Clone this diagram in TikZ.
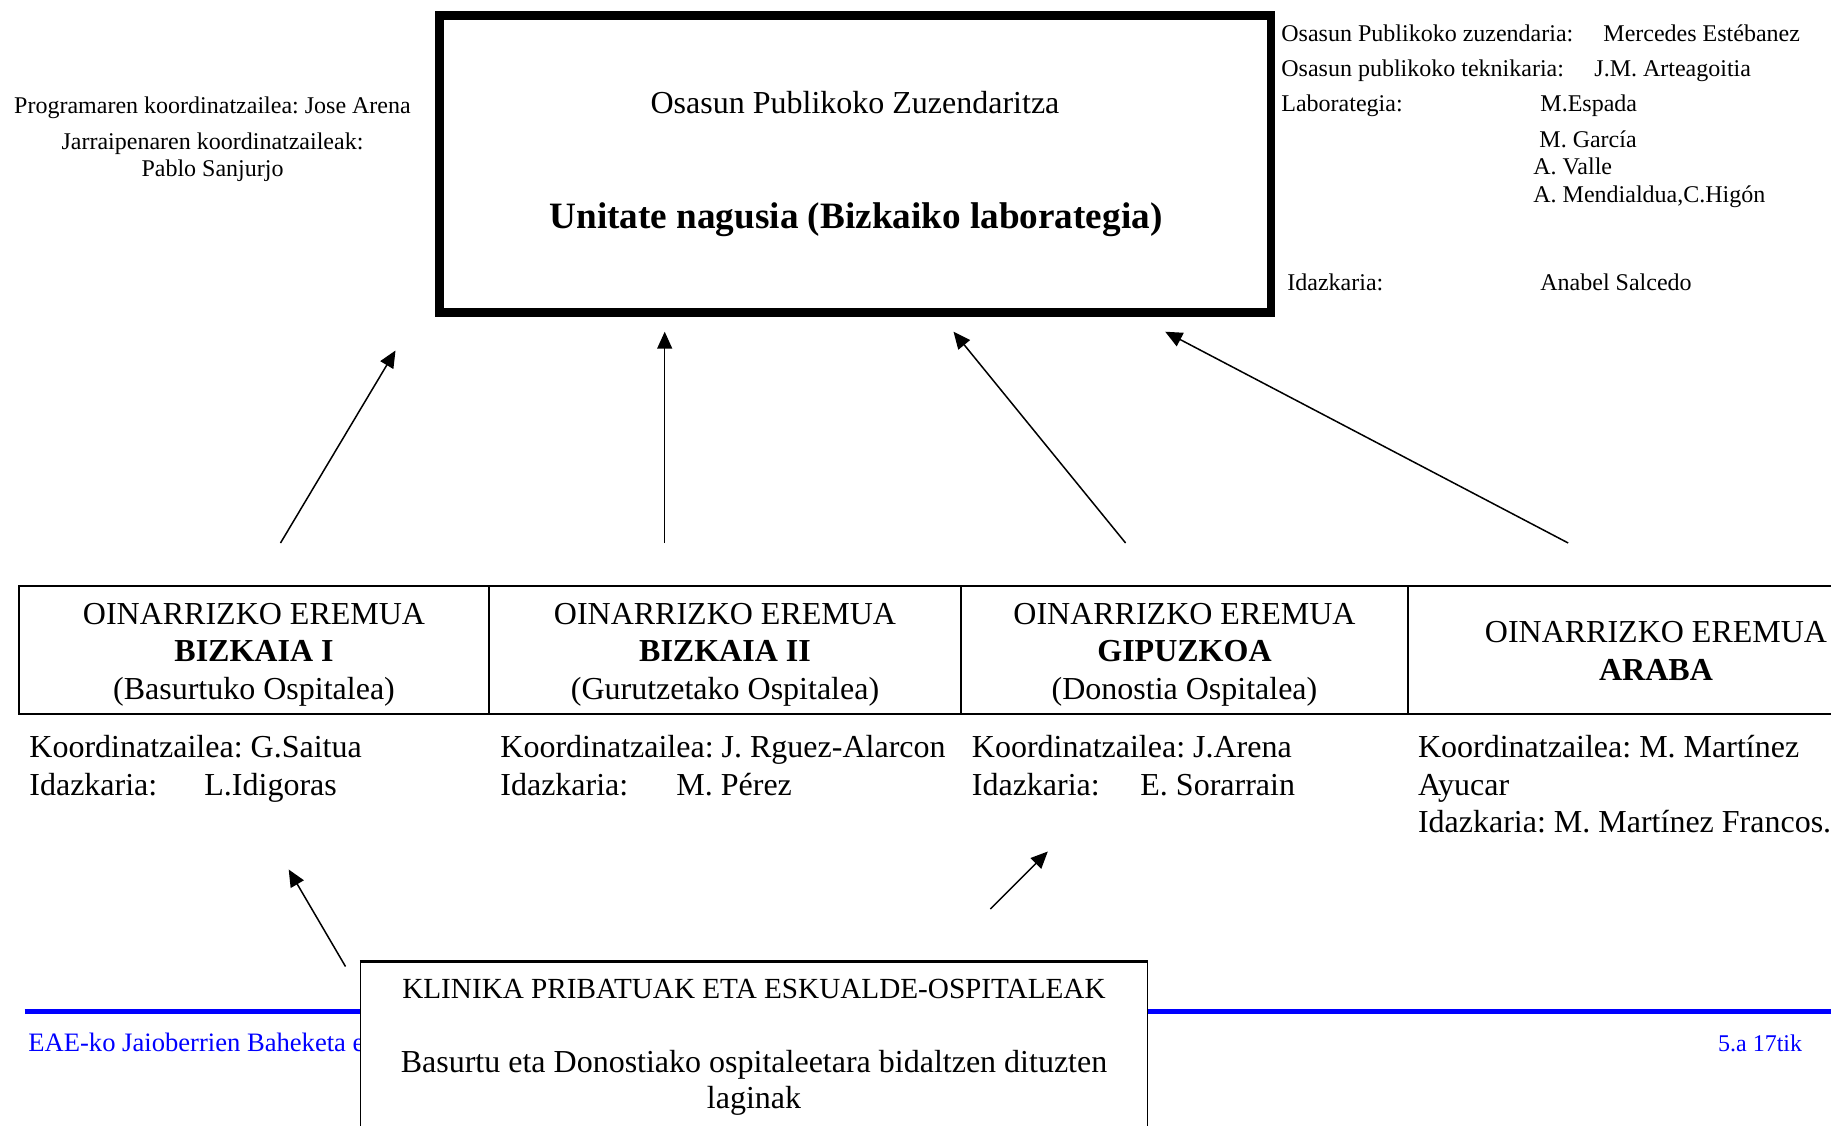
\documentclass[tikz,border=0pt]{standalone}
\usepackage{fontspec}
\setmainfont{Liberation Serif}
\usetikzlibrary{arrows.meta}
\definecolor{footblue}{RGB}{0,0,255}
\frenchspacing
\begin{document}
\begin{tikzpicture}[x=0.5pt,y=-0.5pt,
  txt/.style={inner sep=0pt, text height=0.9em, text depth=0.12em},
  big/.style={txt, font=\fontsize{16}{19}\selectfont, yshift=-1.5pt},
  small/.style={txt, font=\fontsize{12}{14}\selectfont},
  cell/.style={draw=black, line width=1pt, inner sep=0pt, minimum height=63.75pt},
  celltext/.style={inner sep=0pt, align=center, font=\fontsize{16}{18.75}\selectfont},
  arr/.style={-{Triangle[length=8.5pt,width=7.5pt]}, line width=0.75pt}]
\useasboundingbox (0,0) rectangle (1831,1125);
\clip (0,0) rectangle (1831,1125);

% main box
\node[draw=black, line width=4.25pt, minimum width=415.75pt, minimum height=148.5pt, inner sep=0pt] (main) at (855.25,164) {};
\node[big] (t1) at (855,103) {Osasun Publikoko Zuzendaritza};
\node[txt, font=\fontsize{18.6}{22}\selectfont\bfseries] (t2) at (856,221) {Unitate nagusia (Bizkaiko laborategia)};

% left texts
\node[small] (l1) at (212.5,106) {Programaren koordinatzailea: Jose Arena};
\node[small] (l2) at (212.5,141.5) {Jarraipenaren koordinatzaileak:};
\node[small] (l3) at (212.5,168.5) {Pablo Sanjurjo};

% right texts
\node[small, anchor=west] (r1) at (1281,34) {Osasun Publikoko zuzendaria:};
\node[small, anchor=west] (r1b) at (1603,34) {Mercedes Estébanez};
\node[small, anchor=west] (r2) at (1281,69) {Osasun publikoko teknikaria:};
\node[small, anchor=west] (r2b) at (1594,69) {J.M. Arteagoitia};
\node[small, anchor=west] (r3) at (1281,104) {Laborategia:};
\node[small, anchor=west] (r3b) at (1540,104) {M.Espada};
\node[small, anchor=west] (r4) at (1539,140) {M. García};
\node[small, anchor=west] (r5) at (1533,167) {A. Valle};
\node[small, anchor=west] (r6) at (1533,195) {A. Mendialdua,C.Higón};
\node[small, anchor=west] (r7) at (1287,283) {Idazkaria:};
\node[small, anchor=west] (r7b) at (1540,283) {Anabel Salcedo};

% table cells
\node[cell, minimum width=235pt] (c1) at (254,649.75) {};
\node[cell, minimum width=236pt] (c2) at (725,649.75) {};
\node[cell, minimum width=223.5pt] (c3) at (1184.5,649.75) {};
\node[cell, minimum width=248pt] (c4) at (1656,649.75) {};
\node[celltext] (c1t) at (254,654.5) {OINARRIZKO EREMUA\\\textbf{BIZKAIA I}\\(Basurtuko Ospitalea)};
\node[celltext] (c2t) at (725,654.5) {OINARRIZKO EREMUA\\\textbf{BIZKAIA II}\\(Gurutzetako Ospitalea)};
\node[celltext] (c3t) at (1184.5,654.5) {OINARRIZKO EREMUA\\\textbf{GIPUZKOA}\\(Donostia Ospitalea)};
\node[celltext] (c4t) at (1656,651) {OINARRIZKO EREMUA\\\textbf{ARABA}};

% texts below cells
\node[big, anchor=west] (k1) at (29,747) {Koordinatzailea: G.Saitua};
\node[big, anchor=west] (i1) at (29,785) {Idazkaria:};
\node[big, anchor=west] (i1b) at (204,785) {L.Idigoras};
\node[big, anchor=west] (k2) at (500,747) {Koordinatzailea: J. Rguez-Alarcon};
\node[big, anchor=west] (i2) at (500,785) {Idazkaria:};
\node[big, anchor=west] (i2b) at (676,785) {M. Pérez};
\node[big, anchor=west] (k3) at (971.5,747) {Koordinatzailea: J.Arena};
\node[big, anchor=west] (i3) at (971.5,785) {Idazkaria:};
\node[big, anchor=west] (i3b) at (1140,785) {E. Sorarrain};
\node[big, anchor=west] (k4) at (1417.6,747) {Koordinatzailea: M. Martínez};
\node[big, anchor=west] (k4b) at (1417.6,785) {Ayucar};
\node[big, anchor=west] (i4) at (1417.6,822) {Idazkaria: M. Martínez Francos.};

% arrows to main box
\coordinate (a1s) at (280.5,543); \coordinate (a1e) at (395.5,350.5);
\coordinate (a2s) at (664.7,543); \coordinate (a2e) at (664.7,331.7);
\coordinate (a3s) at (1125.6,543); \coordinate (a3e) at (953.5,331.7);
\coordinate (a4s) at (1568.2,543); \coordinate (a4e) at (1165.2,331.7);
\draw[arr] (a1s) -- (a1e);
\draw[arr] (a2s) -- (a2e);
\draw[arr] (a3s) -- (a3e);
\draw[arr] (a4s) -- (a4e);

% footer
\coordinate (fl) at (24.5,1011.5); \coordinate (fr) at (1831,1011.5);
\draw[footblue, line width=2.5pt] (fl) -- (fr);
\node[txt, font=\fontsize{13.3}{15}\selectfont, anchor=west, text=footblue] (f1) at (28,1044) {EAE-ko Jaioberrien Baheketa e};
\node[small, anchor=west, text=footblue] (f2) at (1717.7,1043.5) {5.a 17tik};

% bottom box
\node[draw=black, fill=white, line width=0.7pt, minimum width=393.5pt, minimum height=119pt, inner sep=0pt] (kl) at (754,1081) {};
\draw[line width=1.3pt] (kl.north west) -- (kl.north east);
\node[txt, font=\fontsize{14.6}{17}\selectfont] (kt1) at (754,991) {KLINIKA PRIBATUAK ETA ESKUALDE-OSPITALEAK};
\node[big] (kt2) at (754,1061.5) {Basurtu eta Donostiako ospitaleetara bidaltzen dituzten};
\node[big] (kt3) at (754,1097.6) {laginak};

% arrows from bottom box
\coordinate (a5s) at (345.5,966.5); \coordinate (a5e) at (288.7,869.5);
\coordinate (a6s) at (990.3,909); \coordinate (a6e) at (1047.8,851.5);
\draw[arr] (a5s) -- (a5e);
\draw[arr] (a6s) -- (a6e);
\end{tikzpicture}
\end{document}
